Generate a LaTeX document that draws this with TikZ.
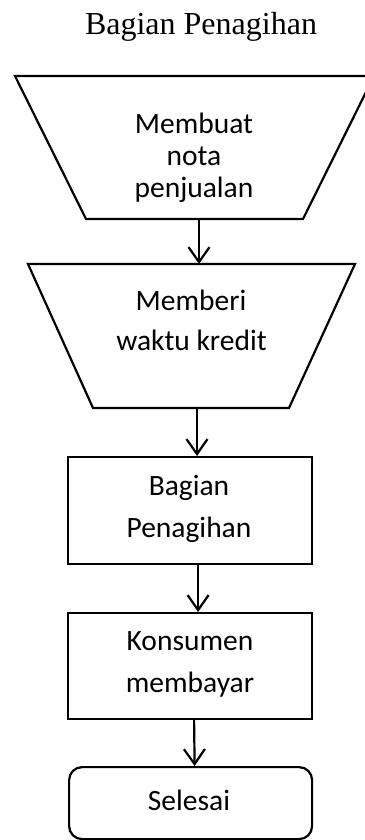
\documentclass[tikz,border=0pt]{standalone}
\usepackage{fontspec}
\setmainfont{Carlito}
\newfontfamily\titlefont{Liberation Serif}
\usetikzlibrary{arrows.meta}
\begin{document}
\begin{tikzpicture}[x=1pt,y=-1pt,
  outline/.style={line width=2.2pt, line join=miter},
  flow/.style={line width=2.2pt, -{Straight Barb[length=15pt,width=21pt]}},
  lbl/.style={anchor=base, inner sep=0pt, font=\fontsize{29.5}{36}\selectfont},
  box/.style={draw, line width=2.2pt, rectangle, minimum width=244pt,
    minimum height=107pt, inner sep=0pt, anchor=north west},
]
\useasboundingbox (0,0) rectangle (364,840);

% heading
\node[anchor=base, inner sep=0pt, font=\titlefont\fontsize{32}{38}\selectfont]
  (title) at (201,35) {Bagian Penagihan};

% first manual operation (inverted trapezoid)
\draw[outline] (15,76) -- (374,76) -- (303,219) -- (86,219) -- cycle;
\coordinate (tAout) at (199,219);
\node[lbl] (tA1) at (194,134) {Membuat};
\node[lbl] (tA2) at (194,165.5) {nota};
\node[lbl] (tA3) at (194,197) {penjualan};

% second manual operation
\draw[outline] (28,264) -- (355,264) -- (289,408) -- (93,408) -- cycle;
\coordinate (tBin) at (199,264);
\coordinate (tBout) at (197,408);
\node[lbl] (tB1) at (191,310) {Memberi};
\node[lbl] (tB2) at (191.5,350) {waktu kredit};

% process boxes
\node[box] (boxA) at (67,456) {};
\node[lbl] (bA1) at (189,495) {Bagian};
\node[lbl] (bA2) at (189,537) {Penagihan};

\node[box, minimum height=106pt] (boxB) at (67,612) {};
\node[lbl] (bB1) at (190,650) {Konsumen};
\node[lbl] (bB2) at (190,692) {membayar};

% terminator
\node[box, minimum width=243pt, minimum height=72pt, rounded corners=13pt]
  (stop) at (68,766) {};
\node[lbl] (stopT) at (189,810) {Selesai};

% connectors
\draw[flow] (tAout) -- (tBin);
\draw[flow] (tBout) -- (tBout |- boxA.north);
\draw[flow] ([xshift=8pt]boxA.south) -- ([xshift=8pt]boxB.north);
\draw[flow] ([xshift=4pt]boxB.south) -- ([xshift=4pt]stop.north);
\end{tikzpicture}
\end{document}
